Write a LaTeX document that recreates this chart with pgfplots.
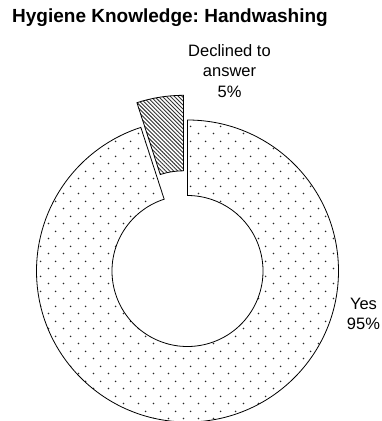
\documentclass[border=0pt]{standalone}
\usepackage{fontspec}
\setmainfont{Liberation Sans}
\usepackage{pgfplots}
\pgfplotsset{compat=1.18}
\usepackage{pgfplotstable}
\usetikzlibrary{patterns.meta,calc}
\frenchspacing

\pgfdeclarepattern{
  name=sdots,
  type=uncolored,
  bottom left={\pgfpointorigin},
  top right={\pgfpoint{15pt}{15pt}},
  tile size={\pgfpoint{15pt}{15pt}},
  code={
    \pgfpathcircle{\pgfpoint{3.75pt}{3.75pt}}{0.9pt}
    \pgfpathcircle{\pgfpoint{11.25pt}{11.25pt}}{0.9pt}
    \pgfusepath{fill}
  }
}

\pgfplotstableread{
label value
Yes 95
Declined 5
}\datatable
\pgfplotstablegetelem{0}{value}\of\datatable \let\vyes\pgfplotsretval
\pgfplotstablegetelem{1}{value}\of\datatable \let\vdec\pgfplotsretval
\pgfmathsetmacro\yesend{90-3.6*\vyes}
\pgfmathsetmacro\decend{90+3.6*\vdec}
\pgfmathsetmacro\decmid{90+1.8*\vdec}
\def\R{151pt}
\def\r{75.5pt}

\begin{document}%
\begin{tikzpicture}
\begin{axis}[
  x=1pt, y=1pt,
  xmin=0, xmax=381, ymin=0, ymax=421,
  hide axis, clip=false,
]
% Yes slice
\draw[line width=0.8pt, pattern=sdots, pattern color=black!85]
  ($(axis cs:187.5,150)+(90:\R)$) arc[start angle=90, end angle=\yesend, radius=\R]
  -- ($(axis cs:187.5,150)+(\yesend:\r)$) arc[start angle=\yesend, end angle=90, radius=\r]
  -- cycle;
% Declined slice (exploded)
\draw[line width=0.8pt, pattern={Lines[angle=-45, distance=2.8pt, line width=0.9pt]}, pattern color=black!80]
  ($(axis cs:187.5,150)+(\decmid:25pt)+(90:\R)$) arc[start angle=90, end angle=\decend, radius=\R]
  -- ($(axis cs:187.5,150)+(\decmid:25pt)+(\decend:\r)$) arc[start angle=\decend, end angle=90, radius=\r]
  -- cycle;
% Title
\node[anchor=base west, inner sep=0pt, font=\bfseries\fontsize{19}{22}\selectfont] at (axis cs:12,398.3) {Hygiene Knowledge: Handwashing};
% Labels
\begin{scope}[every node/.style={anchor=base, inner sep=0pt, font=\fontsize{16.5}{19}\selectfont}]
\node at (axis cs:229.5,364.3) {Declined to};
\node at (axis cs:229.5,344) {answer};
\node at (axis cs:229.5,323.5) {5\%};
\node at (axis cs:363.5,111) {Yes};
\node at (axis cs:363.5,91) {95\%};
\end{scope}
\end{axis}
\pgfresetboundingbox
\path (0,0) rectangle (381pt,421pt);
\end{tikzpicture}%
\end{document}
